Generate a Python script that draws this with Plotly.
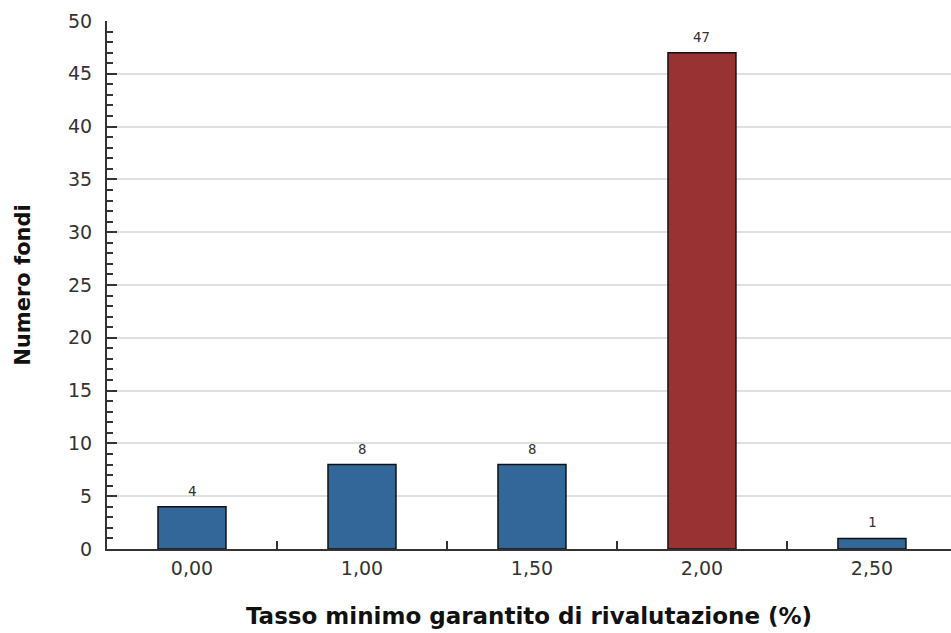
import plotly.graph_objects as go

# Fund counts by minimum guaranteed revaluation rate
categories = ["0,00", "1,00", "1,50", "2,00", "2,50"]
counts = [4, 8, 8, 47, 1]
bar_colors = ["#336699", "#336699", "#336699", "#993333", "#336699"]

y_ticks = [0, 5, 10, 15, 20, 25, 30, 35, 40, 45, 50]

fig = go.Figure()
fig.add_trace(go.Bar(
    x=categories,
    y=counts,
    width=0.4,
    marker=dict(color=bar_colors, line=dict(color="#111111", width=1.5)),
    hoverinfo="x+y",
))

# Value labels above each bar
for cat, val in zip(categories, counts):
    fig.add_annotation(
        x=cat, y=val, text=str(val), showarrow=False,
        yanchor="bottom", yshift=6,
        font=dict(family="DejaVu Sans Mono", size=14, color="#333333"),
    )

fig.update_layout(
    width=951, height=633,
    margin=dict(l=107, r=0, t=21, b=84),
    paper_bgcolor="white", plot_bgcolor="white",
    showlegend=False,
    font=dict(family="DejaVu Sans", color="#333333"),
)

fig.update_xaxes(
    type="category",
    range=[-0.5, 4.465],
    showline=True, linecolor="#333333", linewidth=2,
    ticks="inside", tickson="boundaries", ticklen=8, tickwidth=2, tickcolor="#333333",
    showgrid=False,
    tickfont=dict(family="DejaVu Sans", size=19, color="#333333"),
    ticklabelstandoff=1,
    title=dict(text="<b>Tasso minimo garantito di rivalutazione (%)</b>",
               font=dict(family="DejaVu Sans", size=23, color="#111111"), standoff=30),
)

fig.update_yaxes(
    range=[0, 50],
    tickvals=y_ticks,
    showline=True, linecolor="#333333", linewidth=2,
    ticks="inside", ticklen=10, tickwidth=2, tickcolor="#333333",
    minor=dict(dtick=1, ticks="inside", ticklen=6, tickwidth=2, tickcolor="#333333", showgrid=False),
    showgrid=True, gridcolor="#e0e0e0", gridwidth=1.5,
    zeroline=False,
    tickfont=dict(family="DejaVu Sans", size=19, color="#333333"),
    ticklabelstandoff=9,
    title=dict(text="<b>Numero fondi</b>",
               font=dict(family="DejaVu Sans", size=21, color="#111111"), standoff=32),
)

fig.write_html("out.html")
